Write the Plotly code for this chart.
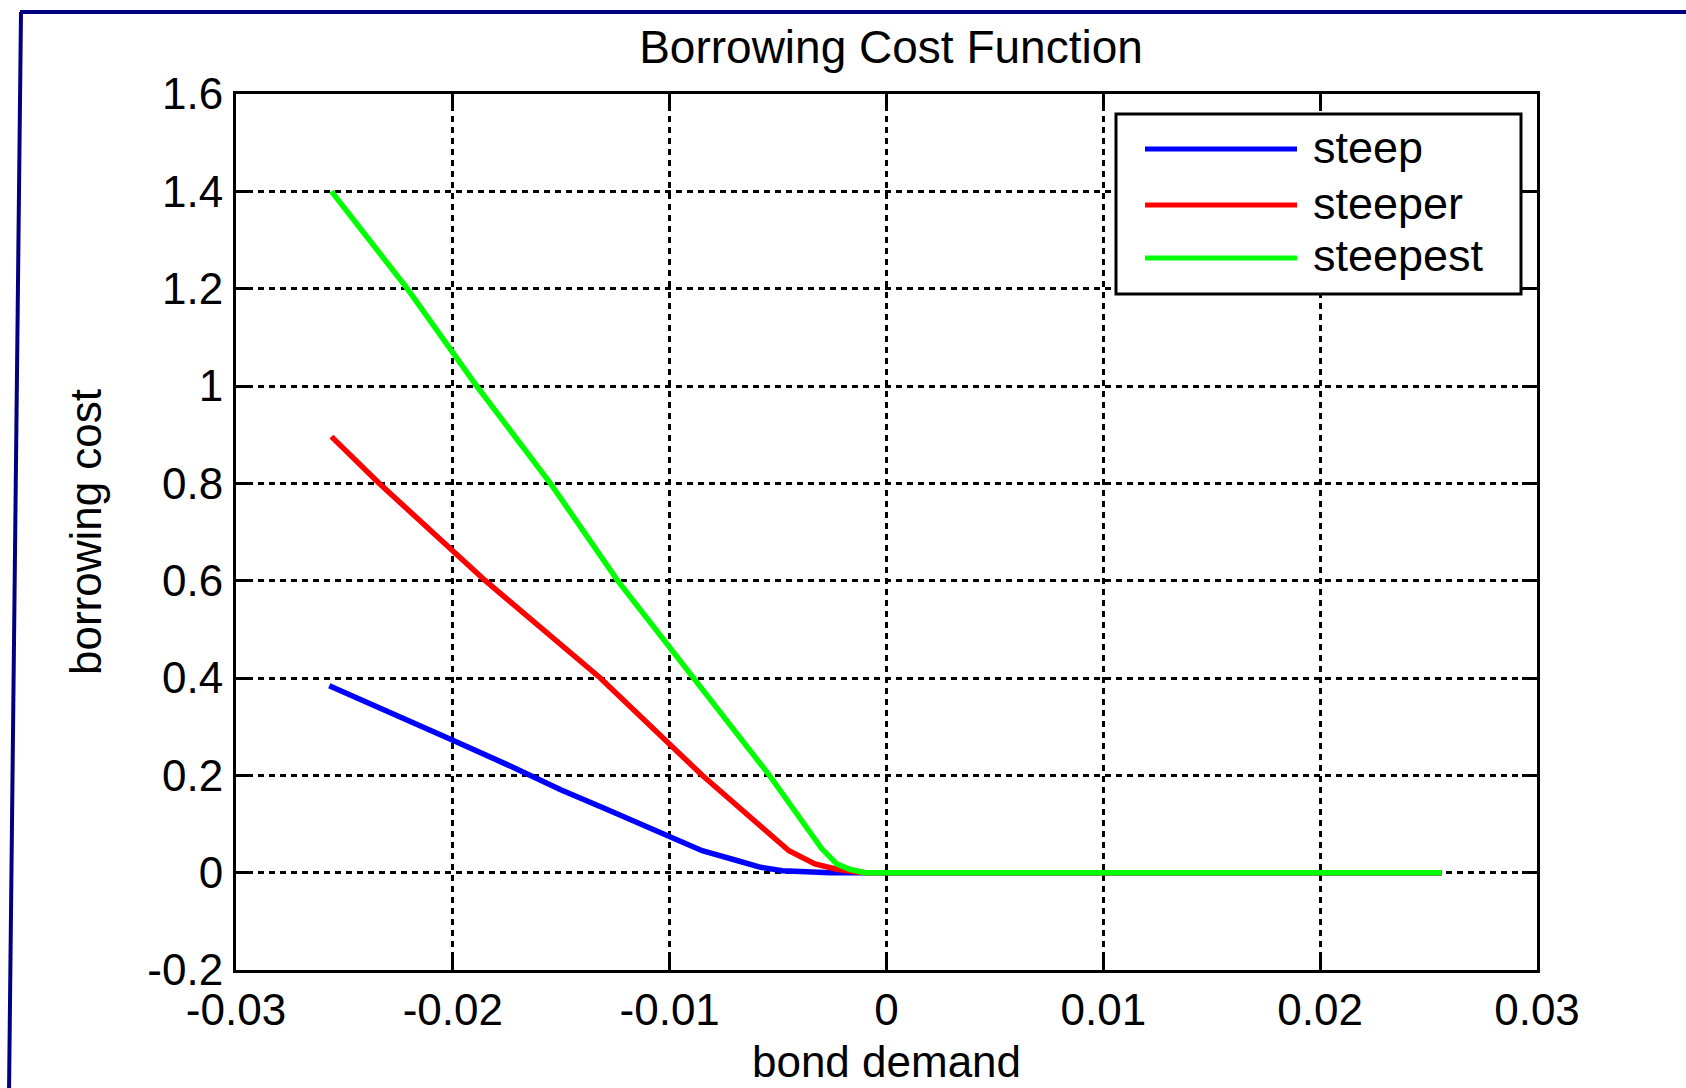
import plotly.graph_objects as go

# Borrowing cost as a function of bond demand, for three slopes
series_names = ["steep", "steeper", "steepest"]
series_colors = ["#0000FF", "#FF0000", "#00FF00"]

demand_steep = [-0.0257, -0.0225, -0.020, -0.0175, -0.015, -0.0131, -0.010,
                -0.0085, -0.0069, -0.0058, -0.0048, -0.0037, -0.0026, 0.0256]
cost_steep = [0.384, 0.322, 0.272, 0.222, 0.170, 0.134, 0.072,
              0.045, 0.025, 0.011, 0.004, 0.002, 0.0, 0.0]

demand_steeper = [-0.0256, -0.0234, -0.0185, -0.0132, -0.0085, -0.0045,
                  -0.0033, -0.0023, -0.0015, -0.0009, 0.0256]
cost_steeper = [0.896, 0.800, 0.600, 0.400, 0.200, 0.045,
                0.018, 0.007, 0.002, 0.0, 0.0]

demand_steepest = [-0.0256, -0.0221, -0.0189, -0.0155, -0.0124, -0.0089, -0.0054,
                   -0.0038, -0.0030, -0.0023, -0.0017, -0.0010, 0.0256]
cost_steepest = [1.400, 1.200, 1.000, 0.800, 0.600, 0.400, 0.200,
                 0.100, 0.050, 0.018, 0.007, 0.0, 0.0]

x_tick_vals = [-0.03, -0.02, -0.01, 0.0, 0.01, 0.02, 0.03]
x_tick_text = ["-0.03", "-0.02", "-0.01", "0", "0.01", "0.02", "0.03"]
y_tick_vals = [-0.2, 0.0, 0.2, 0.4, 0.6, 0.8, 1.0, 1.2, 1.4, 1.6]
y_tick_text = ["-0.2", "0", "0.2", "0.4", "0.6", "0.8", "1", "1.2", "1.4", "1.6"]

xs = [demand_steep, demand_steeper, demand_steepest]
ys = [cost_steep, cost_steeper, cost_steepest]

FONT = "Liberation Sans, Arial, Helvetica, sans-serif"
W, H = 1686, 1088
L, R, T, B = 236, 149, 94, 118
PW, PH = W - L - R, H - T - B


def px(xp):
    return (xp - L) / PW


def py(yp):
    return (H - B - yp) / PH


fig = go.Figure()
for name, color, x, y in zip(series_names, series_colors, xs, ys):
    fig.add_trace(go.Scatter(x=x, y=y, mode="lines", name=name,
                             line=dict(color=color, width=5.5),
                             showlegend=False))

axis_common = dict(
    showline=True, linecolor="black", linewidth=3, mirror="ticks",
    ticks="inside", ticklen=15, tickwidth=2.5, tickcolor="black",
    showgrid=True, gridcolor="black", gridwidth=2.5, griddash="6px,5px",
    zeroline=False, automargin=False,
    tickfont=dict(family=FONT, size=44, color="black"),
)

fig.update_xaxes(range=[-0.03, 0.03], tickvals=x_tick_vals, ticktext=x_tick_text,
                 ticklabelstandoff=-1,
                 title=dict(text="bond demand", standoff=14,
                            font=dict(family=FONT, size=44, color="black")),
                 **axis_common)
fig.update_yaxes(range=[-0.2, 1.6], tickvals=y_tick_vals, ticktext=y_tick_text,
                 ticklabelstandoff=1,
                 title=dict(text="borrowing cost", standoff=32,
                            font=dict(family=FONT, size=44, color="black")),
                 **axis_common)

shapes = []
# outer figure frame (top and left edges)
navy = "#000080"
shapes.append(dict(type="line", xref="paper", yref="paper",
                   x0=px(20), y0=py(12), x1=px(W + 5), y1=py(12),
                   line=dict(color=navy, width=4)))
shapes.append(dict(type="line", xref="paper", yref="paper",
                   x0=px(21), y0=py(12), x1=px(9), y1=py(H + 5),
                   line=dict(color=navy, width=4)))

# legend box
shapes.append(dict(type="rect", xref="paper", yref="paper",
                   x0=px(1116), y0=py(294), x1=px(1521), y1=py(114),
                   line=dict(color="black", width=3), fillcolor="white",
                   layer="above"))
annotations = []
legend_rows = [149, 205, 258]
for name, color, yrow in zip(series_names, series_colors, legend_rows):
    shapes.append(dict(type="line", xref="paper", yref="paper",
                       x0=px(1145), y0=py(yrow), x1=px(1297), y1=py(yrow),
                       line=dict(color=color, width=5), layer="above"))
    annotations.append(dict(text=name, xref="paper", yref="paper",
                            x=px(1311), y=py(yrow - 2), xanchor="left",
                            yanchor="middle", showarrow=False,
                            font=dict(family=FONT, size=45, color="black")))

fig.update_layout(
    width=W, height=H,
    margin=dict(l=L, r=R, t=T, b=B),
    paper_bgcolor="white", plot_bgcolor="white",
    title=dict(text="Borrowing Cost Function", x=891 / W, xref="container",
               xanchor="center", y=1 - 47 / H, yanchor="middle",
               automargin=False,
               font=dict(family=FONT, size=46, color="black")),
    shapes=shapes, annotations=annotations,
)

fig.write_html("out.html")
